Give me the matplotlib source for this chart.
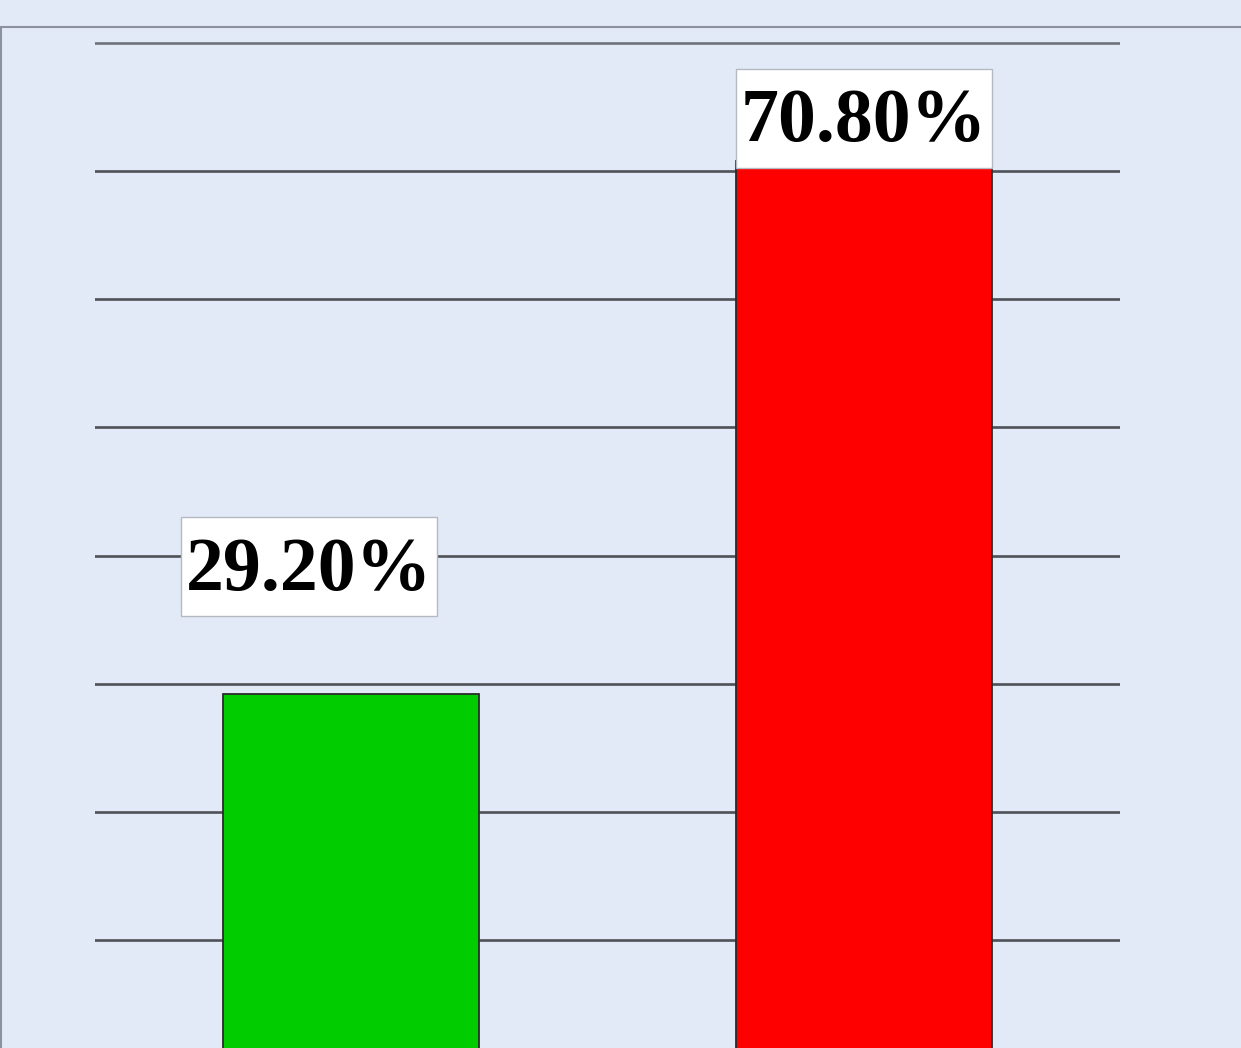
import matplotlib.pyplot as plt
from matplotlib.patches import Rectangle

# Data
categories = ["A", "B"]
values = [29.2, 70.8]
labels = ["29.20%", "70.80%"]
colors = ["#00CC00", "#FF0000"]
grid_ticks = [10, 20, 30, 40, 50, 60, 70, 80]

W, H = 1241, 1048
bg = "#E3EAF7"

fig = plt.figure(figsize=(W / 100, H / 100), dpi=100)
fig.patch.set_facecolor(bg)

# outer frame of the chart area (cut off at right / bottom)
fig.patches.append(Rectangle((1 / W, -0.1), 1.2, 1 - 27 / H + 0.1,
                             transform=fig.transFigure, fill=False,
                             edgecolor="#8C929B", linewidth=1.5))

# plot area: x from 95 to 1120 px, y from 30 to 1048 px
ax = fig.add_axes([95 / W, 0, (1120 - 95) / W, (1048 - 30) / H])
ax.set_facecolor(bg)
px_per_unit = (940 - 43) / 70.0
ax.set_ylim(80 - (1048 - 43) / px_per_unit, 80 + 13 / px_per_unit)
ax.set_xlim(0, 2)

for t in grid_ticks:
    lc = "#6E737A" if t == grid_ticks[-1] else "#4E5155"
    ax.axhline(t, color=lc, linewidth=1.9, zorder=1)

x = [0.5, 1.5]
ax.bar(x, values, width=0.5, color=colors, edgecolor="#2B2B2B",
       linewidth=1.3, zorder=2)

# value labels in white boxes
box_h = 99 / px_per_unit
offsets = [(-42 / 512.5, 6.06), (0.0, -0.54)]
for xi, v, lab, (dx, dy) in zip(x, values, labels, offsets):
    bx = xi - 0.25 + dx
    by = v + dy
    ax.add_patch(Rectangle((bx, by), 0.5, box_h, facecolor="white",
                           edgecolor="#B5BAC2", linewidth=1.0, zorder=3))
    ax.text(bx + 0.25, by + box_h / 2 - 0.35, lab, ha="center", va="center",
            fontsize=54.5, fontweight="bold", family="Liberation Serif",
            color="black", zorder=4)

for s in ax.spines.values():
    s.set_visible(False)
ax.set_xticks([])
ax.set_yticks([])

plt.savefig("out.png", dpi=100, facecolor=fig.get_facecolor())
